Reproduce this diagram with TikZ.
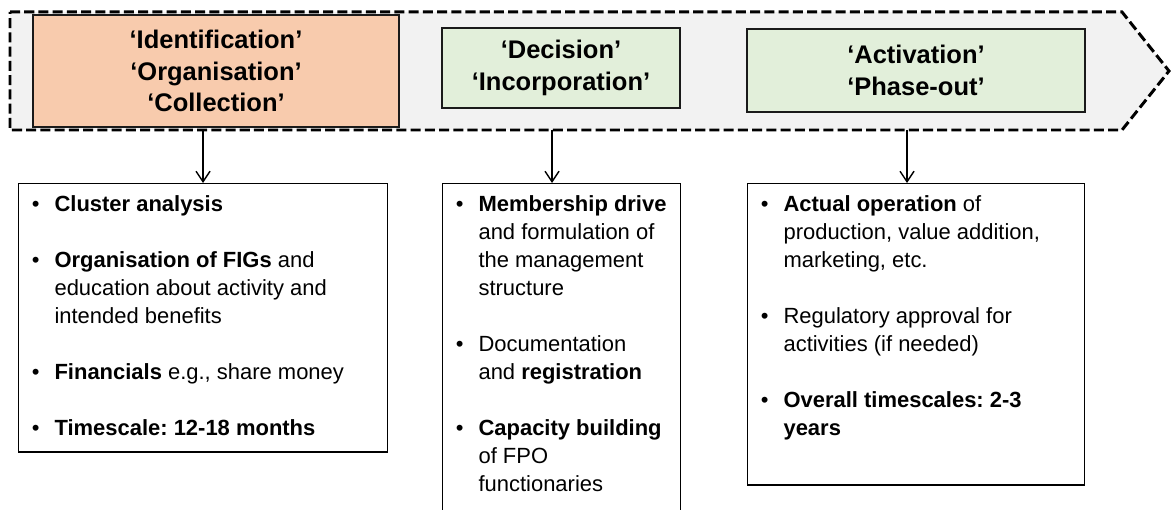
\documentclass[tikz,border=0pt]{standalone}
\usepackage{fontspec}
\setmainfont{Liberation Sans}
\usepackage{enumitem}
\usetikzlibrary{arrows.meta}
\definecolor{bandbg}{HTML}{F2F2F2}
\definecolor{earlybg}{HTML}{F8CBAD}
\definecolor{laterbg}{HTML}{E2EFDA}
\definecolor{linecolor}{HTML}{1A1A1A}

\setlist[itemize]{label=\textbullet, leftmargin=20.4pt, labelsep=8.5pt, labelwidth=11.9pt, align=right, topsep=0pt, partopsep=0pt, itemsep=16pt, parsep=0pt}
\frenchspacing

\begin{document}
\begin{tikzpicture}[
    >={Straight Barb[length=6pt,width=8pt]},
    phase/.style={draw=linecolor, fill=#1, line width=0.8pt, align=center, inner sep=0pt, font=\fontsize{14.5pt}{18.1pt}\selectfont\bfseries},
    taskbox/.style={draw=black, fill=white, line width=0.8pt, anchor=north west, inner xsep=0pt, inner ysep=7pt, font=\fontsize{12.5pt}{15.9pt}\selectfont},
    link/.style={->, line width=0.8pt}
]
    \useasboundingbox (0,0) rectangle (23.42,-10.2);

    % Dashed band holding the three phases
    \draw[fill=bandbg, dash pattern=on 5.7pt off 2.4pt, line width=1.7pt] (0.2,-0.24) -- (22.44,-0.24) -- (23.38,-1.42) -- (22.44,-2.6) -- (0.2,-2.6) -- cycle;

    % Phase headers
    \node[phase=earlybg, minimum width=7.32cm, minimum height=2.24cm] (phase1) at (4.32,-1.42) {‘Identification’\\‘Organisation’\\‘Collection’};
    \node[phase=laterbg, minimum width=4.76cm, minimum height=1.6cm] (phase2) at (11.22,-1.36) {‘Decision’\\‘Incorporation’};
    \node[phase=laterbg, minimum width=6.76cm, minimum height=1.66cm] (phase3) at (18.32,-1.41) {‘Activation’\\‘Phase-out’};

    % Activity lists under each phase
    \node[taskbox] (tasks1) at (0.36,-3.66) {\begin{minipage}[t][4.87cm][t]{7.38cm}\raggedright
        \begin{itemize}
            \item \textbf{Cluster analysis}
            \item \textbf{Organisation of FIGs} and\\education about activity and\\intended benefits
            \item \textbf{Financials} e.g., share money
            \item \textbf{Timescale: 12-18 months}
        \end{itemize}\end{minipage}};
    \node[taskbox] (tasks2) at (8.84,-3.66) {\begin{minipage}[t][6.15cm][t]{4.76cm}\raggedright
        \begin{itemize}
            \item \textbf{Membership drive}\\and formulation of\\the management\\structure
            \item Documentation\\and \textbf{registration}
            \item \textbf{Capacity building}\\of FPO\\functionaries
        \end{itemize}\end{minipage}};
    \node[taskbox] (tasks3) at (14.94,-3.66) {\begin{minipage}[t][5.53cm][t]{6.74cm}\raggedright
        \begin{itemize}
            \item \textbf{Actual operation} of\\production, value addition,\\marketing, etc.
            \item Regulatory approval for\\activities (if needed)
            \item \textbf{Overall timescales: 2-3}\\\textbf{years}
        \end{itemize}\end{minipage}};

    % Arrows from the band down to the lists
    \coordinate (out1) at (4.06,-2.6);
    \coordinate (out2) at (11.04,-2.6);
    \coordinate (out3) at (18.14,-2.6);
    \draw[link] (out1) -- (out1 |- tasks1.north);
    \draw[link] (out2) -- (out2 |- tasks2.north);
    \draw[link] (out3) -- (out3 |- tasks3.north);

\end{tikzpicture}
\end{document}
